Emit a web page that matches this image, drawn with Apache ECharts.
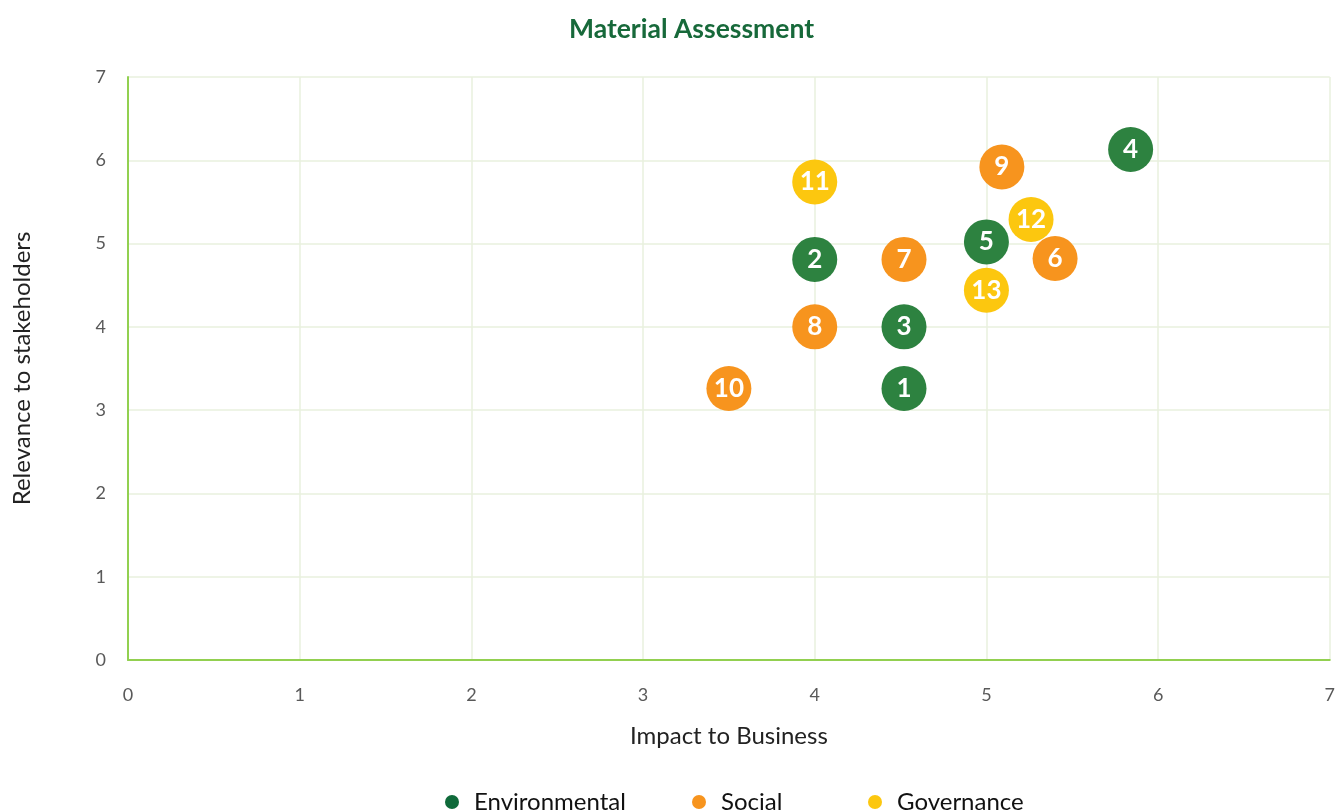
<!DOCTYPE html>
<html>
<head>
<meta charset="utf-8">
<title>Material Assessment</title>
<script src="https://cdn.jsdelivr.net/npm/echarts@6/dist/echarts.min.js"></script>
<style>
  html, body { margin: 0; padding: 0; background: #fff; }
  #main { width: 1338px; height: 810px; }
</style>
</head>
<body>
<div id="main"></div>
<script>
/* materiality matrix */
var axisTicks = [0, 1, 2, 3, 4, 5, 6, 7];

var envIds = ['1', '2', '3', '4', '5'];
var envX = [4.52, 4.0, 4.52, 5.84, 5.0];
var envY = [3.26, 4.81, 4.0, 6.13, 5.02];

var socIds = ['6', '7', '8', '9', '10'];
var socX = [5.4, 4.52, 4.0, 5.09, 3.5];
var socY = [4.82, 4.81, 4.0, 5.92, 3.26];

var govIds = ['11', '12', '13'];
var govX = [4.0, 5.26, 5.0];
var govY = [5.74, 5.29, 4.44];

(function(){
	var myChart = echarts.init(document.getElementById('main'));
	var font = 'Lato, "Noto Sans", sans-serif';

	function pts(ids, xs, ys) {
		return ids.map(function(id, i){ return [xs[i], ys[i], id]; });
	}

	function makeSeries(name, color, data) {
		return {
			name: name,
			type: 'scatter',
			symbolSize: 45,
			data: data,
			itemStyle: { color: color, opacity: 1 },
			label: {
				show: true,
				position: 'inside',
				formatter: function(p){ return p.value[2]; },
				color: '#fff',
				fontSize: 26,
				fontWeight: 'bold',
				fontFamily: font
			}
		};
	}

	// one legend per item, the slots in the original are unevenly spaced
	function makeLegend(name, color, left) {
		return {
			bottom: -9,
			left: left,
			icon: 'circle',
			itemWidth: 14,
			itemHeight: 14,
			textStyle: { color: '#111', fontSize: 24, fontFamily: font, padding: [0, 0, 0, 10] },
			data: [{ name: name, itemStyle: { color: color } }]
		};
	}

	var axisCommon = {
		type: 'value',
		min: axisTicks[0],
		max: axisTicks[axisTicks.length - 1],
		interval: 1,
		axisLine: { show: true, onZero: false, lineStyle: { color: '#92d050', width: 2 } },
		axisTick: { show: false },
		splitLine: { show: true, lineStyle: { color: '#e9f0de', width: 1.5 } },
		axisLabel: { color: '#595959', fontSize: 18, fontFamily: font },
		nameLocation: 'middle',
		nameTextStyle: { color: '#222', fontSize: 24, fontFamily: font }
	};

	var option = {
		backgroundColor: '#fff',
		animation: false,
		title: {
			text: 'Material Assessment',
			left: 564,
			top: 11,
			textStyle: { color: '#17693a', fontSize: 26.5, fontWeight: 'bold', fontFamily: font }
		},
		grid: { left: 128, right: 7, top: 77, bottom: 150 },
		xAxis: Object.assign({}, axisCommon, {
			name: 'Impact to Business',
			nameGap: 64,
			axisLabel: Object.assign({}, axisCommon.axisLabel, { margin: 26 })
		}),
		yAxis: Object.assign({}, axisCommon, {
			name: 'Relevance to stakeholders',
			nameGap: 94,
			axisLabel: Object.assign({}, axisCommon.axisLabel, { margin: 22 })
		}),
		legend: [
			makeLegend('Environmental', '#0f6a3a', 440),
			makeLegend('Social', '#f7941e', 687),
			makeLegend('Governance', '#fcc70f', 863)
		],
		series: [
			makeSeries('Environmental', '#2d8240', pts(envIds, envX, envY)),
			makeSeries('Social', '#f7941e', pts(socIds, socX, socY)),
			makeSeries('Governance', '#fcc70f', pts(govIds, govX, govY))
		]
	};
	myChart.setOption(option);
})();
</script>
</body>
</html>
